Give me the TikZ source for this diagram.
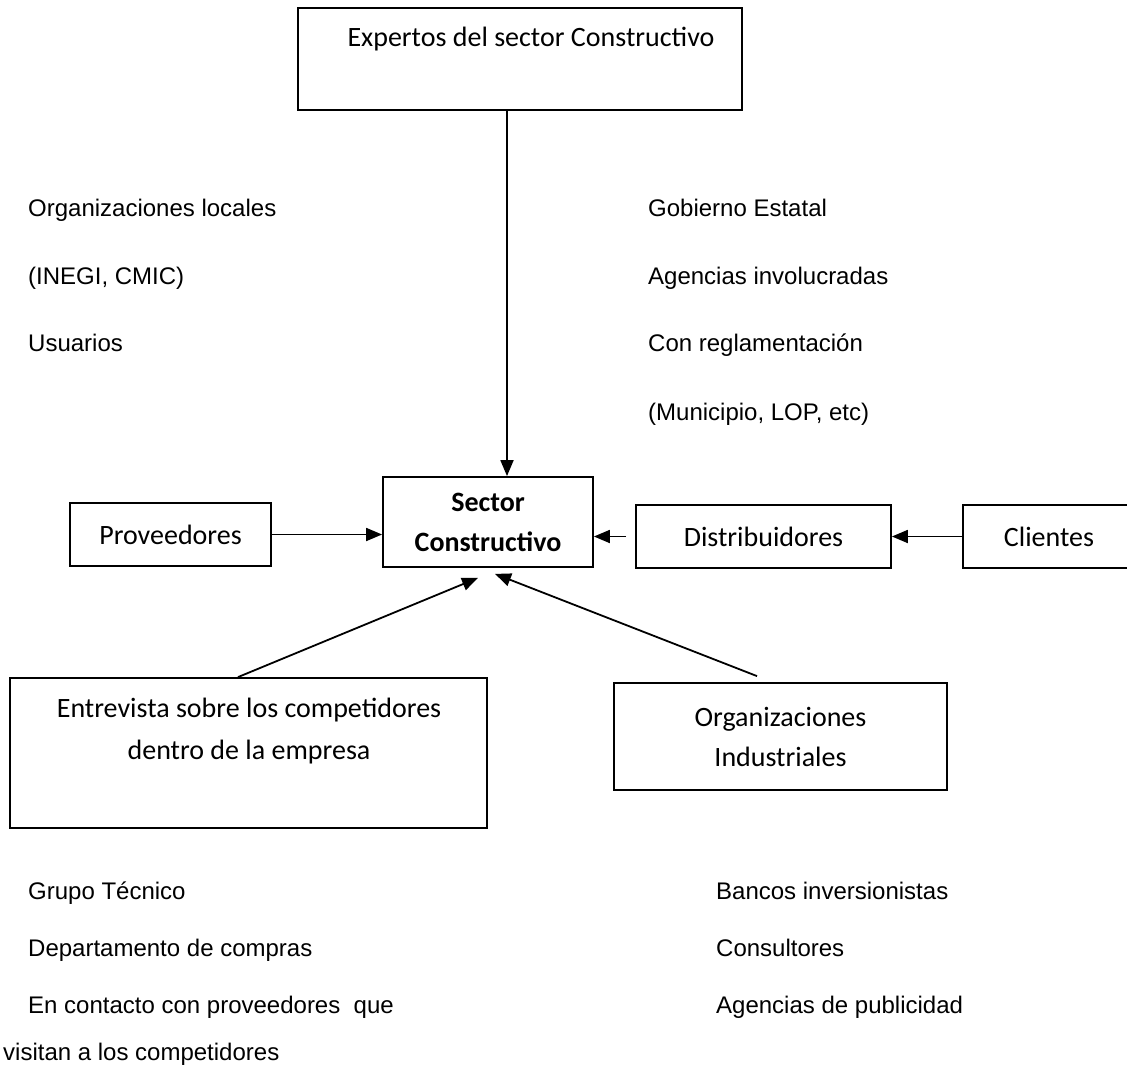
\documentclass[tikz,border=0pt]{standalone}
\usepackage{fontspec}
\setmainfont{Liberation Sans}
\newfontfamily\boxfont{Carlito}
\usetikzlibrary{arrows.meta,calc}
\begin{document}
\begin{tikzpicture}[x=1pt,y=-1pt,
  box/.style={draw, line width=1.8pt, inner sep=0pt, align=center, font=\boxfont\fontsize{28}{40}\selectfont},
  boxtext/.style={inner sep=0pt, align=center, font=\boxfont\fontsize{28}{42}\selectfont},
  free/.style={anchor=base west, inner sep=0pt, font=\fontsize{24}{29}\selectfont},
  arr/.style={line width=1.8pt, -{Triangle[length=16pt,width=13pt]}}]
\clip (0,0) rectangle (1127,1067);
\fill[white] (0,0) rectangle (1127,1067);

% boxes
\node[box, minimum width=444pt, minimum height=102pt] (top) at (520,59) {};
\node[boxtext, anchor=base] (toptext) at (531,47) {Expertos del sector Constructivo};
\node[box, minimum width=201pt, minimum height=63pt] (prov) at (170.5,534.5) {Proveedores};
\node[box, minimum width=210pt, minimum height=90pt, font=\boxfont\bfseries\fontsize{28}{40}\selectfont] (sector) at (488,522) {Sector\\Constructivo};
\node[box, minimum width=255pt, minimum height=63pt] (dist) at (763.5,536.5) {Distribuidores};
\node[box, minimum width=172pt, minimum height=63pt] (clientes) at (1049,536.5) {Clientes};
\node[box, minimum width=477pt, minimum height=150pt] (entrevista) at (248.5,753) {};
\node[boxtext] (entext) at (249,731) {Entrevista sobre los competidores\\dentro de la empresa};
\node[box, minimum width=333pt, minimum height=107pt] (orgind) at (780.5,736.5) {Organizaciones\\Industriales};

% connectors
\coordinate (vx) at (507,0);
\draw[arr] (top.south -| vx) -- (sector.north -| vx);
\draw[arr] (prov.east) -- (prov.east -| sector.west);
\draw[arr, shorten <=9pt] (dist.west) -- (dist.west -| sector.east);
\draw[arr] (clientes.west) -- (clientes.west -| dist.east);
\draw[arr] ([xshift=-10.5pt]entrevista.north) -- ([xshift=-10pt,yshift=-10pt]sector.south);
\draw[arr] ([xshift=-23.5pt,yshift=6pt]orgind.north) -- ([xshift=7pt,yshift=-6pt]sector.south);

% free texts
\node[free] (ol) at (28,217) {Organizaciones locales};
\node[free] (inegi) at (28,285) {(INEGI, CMIC)};
\node[free] (usu) at (28,352) {Usuarios};
\node[free] (gob) at (648,217) {Gobierno Estatal};
\node[free] (agi) at (648,285) {Agencias involucradas};
\node[free] (conr) at (648,352) {Con reglamentación};
\node[free] (mun) at (648,420) {(Municipio, LOP, etc)};
\node[free] (grupo) at (28,899) {Grupo Técnico};
\node[free] (depto) at (28,956) {Departamento de compras};
\node[free] (encont) at (28,1013) {En contacto con proveedores~ que};
\node[free] (visit) at (3,1060) {visitan a los competidores};
\node[free] (bancos) at (716,899) {Bancos inversionistas};
\node[free] (cons) at (716,956) {Consultores};
\node[free] (agpub) at (716,1013) {Agencias de publicidad};
\end{tikzpicture}
\end{document}
